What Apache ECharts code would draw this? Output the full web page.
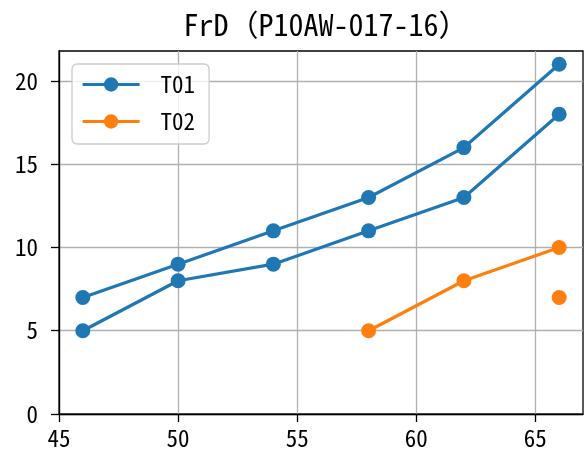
<!DOCTYPE html>
<html>
<head>
<meta charset="utf-8">
<script src="https://cdn.jsdelivr.net/npm/echarts@6/dist/echarts.min.js"></script>
<style>html,body{margin:0;padding:0;background:#fff;}#c{width:584px;height:457px;}</style>
</head>
<body>
<div id="c"></div>
<script>
const titleText = 'FrD（P10AW-017-16）';
const xTicks = [45, 50, 55, 60, 65];
const yTicks = [0, 5, 10, 15, 20];
const t01aX = [46, 50, 54, 58, 62, 66];
const t01aY = [7, 9, 11, 13, 16, 21];
const t01bX = [46, 50, 54, 58, 62, 66];
const t01bY = [5, 8, 9, 11, 13, 18];
const t02aX = [58, 62, 66];
const t02aY = [5, 8, 10];
const t02bX = [66];
const t02bY = [7];

const FONT = "'Noto Sans Mono CJK JP', 'Noto Sans CJK JP', sans-serif";
const BLUE = '#1f77b4', ORANGE = '#ff7f0e';
const pairs = (xs, ys) => xs.map((x, i) => [x, ys[i]]);

function lineSeries(name, color, xs, ys) {
  return {
    name: name, type: 'line', data: pairs(xs, ys),
    symbol: 'circle', symbolSize: 15, showSymbol: true,
    itemStyle: {color: color},
    lineStyle: {color: color, width: 3.2},
    emphasis: {disabled: true}, animation: false, z: 3
  };
}

const chart = echarts.init(document.getElementById('c'), null, {renderer: 'canvas'});
chart.setOption({
  animation: false,
  backgroundColor: '#ffffff',
  title: {
    text: titleText, left: 321, top: 5, textAlign: 'center',
    textStyle: {fontFamily: FONT, fontSize: 30, fontWeight: 'normal', color: '#000'}
  },
  legend: {
    data: ['T01', 'T02'], orient: 'vertical', left: 72, top: 64,
    itemWidth: 57, itemHeight: 18, itemGap: 14,
    padding: [9, 14, 11, 9],
    backgroundColor: 'rgba(255,255,255,0.8)',
    borderColor: '#cccccc', borderWidth: 1.3, borderRadius: 5,
    lineStyle: {width: 3.2},
    textStyle: {fontFamily: FONT, fontSize: 23, color: '#000', padding: [0, 0, 0, 16]},
    selectedMode: false
  },
  grid: {
    left: 59, right: 1, top: 51, bottom: 43,
    show: true, borderColor: '#000', borderWidth: 1.3, backgroundColor: 'transparent'
  },
  xAxis: {
    type: 'value', min: 45, max: 67, interval: 5,
    axisLine: {show: true, onZero: false, lineStyle: {color: '#000', width: 1.3}},
    axisTick: {show: true, length: 8, inside: false, customValues: xTicks, lineStyle: {color: '#000', width: 1.3}},
    axisLabel: {customValues: xTicks, margin: 13, fontFamily: FONT, fontSize: 23, color: '#000'},
    splitLine: {show: true, lineStyle: {color: '#b0b0b0', width: 1.3}}
  },
  yAxis: {
    type: 'value', min: 0, max: 21.8, interval: 5,
    axisLine: {show: true, onZero: false, lineStyle: {color: '#000', width: 1.3}},
    axisTick: {show: true, length: 8, inside: false, customValues: yTicks, lineStyle: {color: '#000', width: 1.3}},
    axisLabel: {customValues: yTicks, margin: 21, fontFamily: FONT, fontSize: 23, color: '#000'},
    splitLine: {show: true, lineStyle: {color: '#b0b0b0', width: 1.3}}
  },
  series: [
    lineSeries('T01', BLUE, t01aX, t01aY),
    lineSeries('T01', BLUE, t01bX, t01bY),
    lineSeries('T02', ORANGE, t02aX, t02aY),
    lineSeries('T02', ORANGE, t02bX, t02bY)
  ]
});
</script>
</body>
</html>
